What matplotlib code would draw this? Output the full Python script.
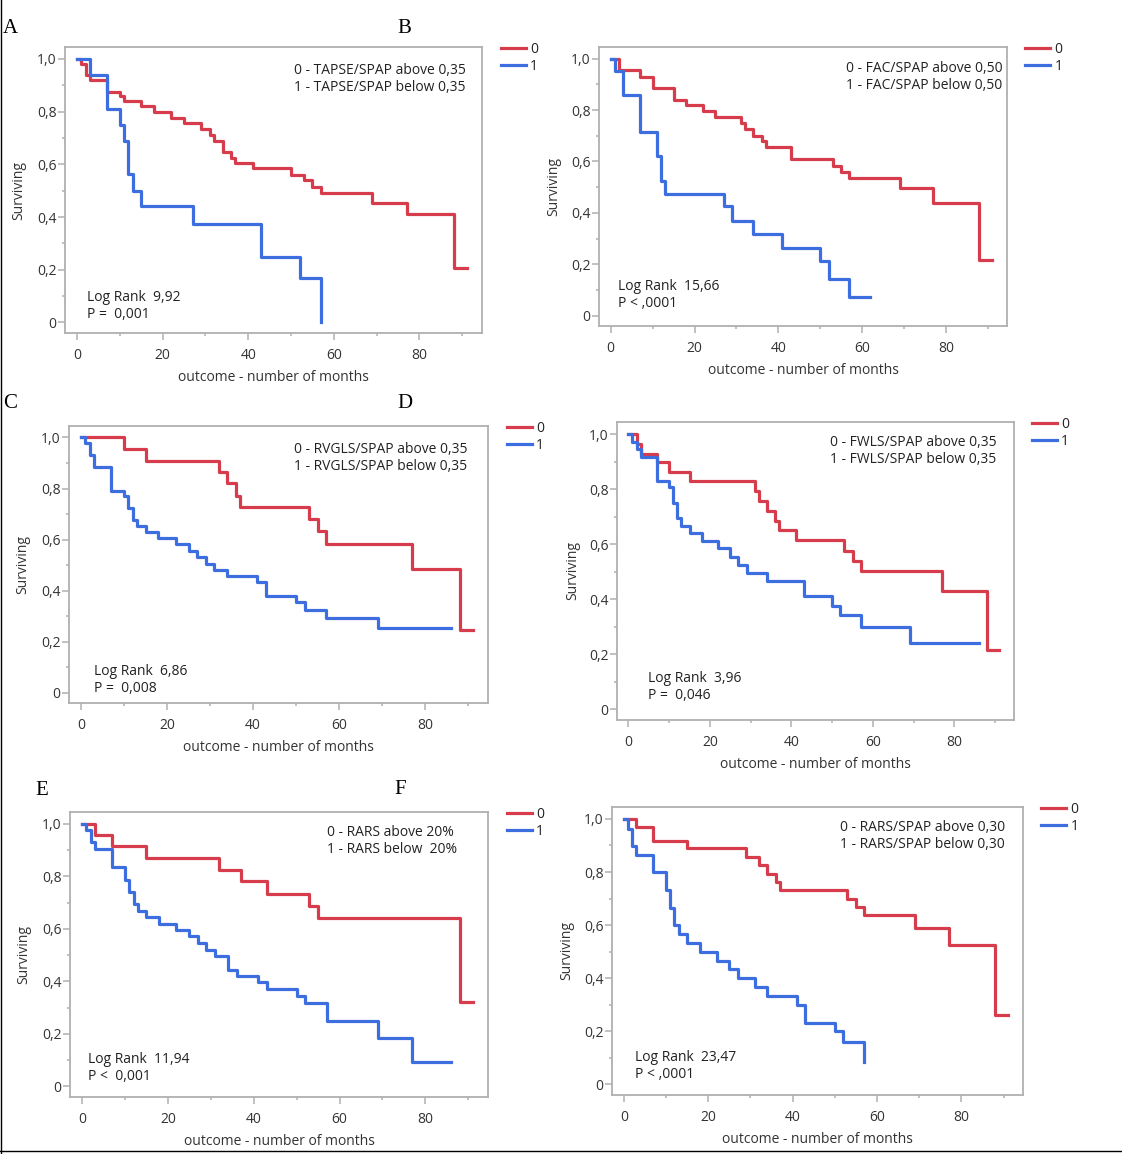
import matplotlib
matplotlib.use('Agg')
import matplotlib.pyplot as plt
from matplotlib.lines import Line2D
from matplotlib.ticker import MultipleLocator, FuncFormatter

plt.rcParams['font.family'] = ['Open Sans', 'DejaVu Sans']

RED = '#d63c4c'
BLUE = '#3d6ee0'
GRAY = '#b0b0b0'
TXT = '#333333'

# ---- data (months, surviving fraction) ----
a_red_t = [0, 1, 2, 3, 7, 10, 11, 15, 18, 22, 25, 29, 31, 32, 34, 36, 37, 41, 50, 53, 55, 57, 69, 77, 88, 91]
a_red_s = [1.0, 0.98, 0.94, 0.92, 0.875, 0.86, 0.84, 0.82, 0.80, 0.775, 0.755, 0.735, 0.71, 0.69, 0.645,
           0.625, 0.605, 0.585, 0.56, 0.54, 0.515, 0.49, 0.455, 0.41, 0.205, 0.205]
a_blue_t = [0, 3, 7, 10, 11, 12, 13, 15, 27, 43, 52, 57]
a_blue_s = [1.0, 0.94, 0.81, 0.75, 0.69, 0.565, 0.50, 0.44, 0.375, 0.25, 0.17, 0.0]

b_red_t = [0, 2, 7, 10, 15, 18, 22, 25, 31, 32, 34, 36, 37, 43, 53, 55, 57, 69, 77, 88, 91]
b_red_s = [1.0, 0.955, 0.93, 0.885, 0.84, 0.82, 0.795, 0.773, 0.75, 0.727, 0.70, 0.68, 0.656, 0.61,
           0.584, 0.56, 0.534, 0.495, 0.438, 0.218, 0.218]
b_blue_t = [0, 1, 3, 7, 11, 12, 13, 27, 29, 34, 41, 50, 52, 57, 62]
b_blue_s = [1.0, 0.95, 0.858, 0.716, 0.62, 0.525, 0.475, 0.425, 0.37, 0.318, 0.264, 0.212, 0.142, 0.071, 0.071]

c_red_t = [0, 10, 15, 32, 34, 36, 37, 53, 55, 57, 77, 88, 91]
c_red_s = [1.0, 0.955, 0.909, 0.864, 0.821, 0.772, 0.728, 0.682, 0.633, 0.582, 0.484, 0.244, 0.244]
c_blue_t = [0, 1, 2, 3, 7, 10, 11, 12, 13, 15, 18, 22, 25, 27, 29, 31, 34, 41, 43, 50, 52, 57, 69, 86]
c_blue_s = [1.0, 0.98, 0.933, 0.886, 0.79, 0.769, 0.724, 0.678, 0.652, 0.63, 0.607, 0.581, 0.555, 0.533,
            0.506, 0.481, 0.458, 0.432, 0.381, 0.354, 0.325, 0.293, 0.252, 0.252]

d_red_t = [0, 2, 3, 7, 10, 15, 31, 32, 34, 36, 37, 41, 53, 55, 57, 77, 88, 91]
d_red_s = [1.0, 0.966, 0.93, 0.899, 0.862, 0.829, 0.792, 0.756, 0.722, 0.686, 0.65, 0.614, 0.575, 0.539,
           0.502, 0.43, 0.215, 0.215]
d_blue_t = [0, 1, 2, 3, 7, 10, 11, 12, 13, 15, 18, 22, 25, 27, 29, 34, 43, 50, 52, 57, 69, 86]
d_blue_s = [1.0, 0.971, 0.947, 0.919, 0.832, 0.807, 0.75, 0.696, 0.665, 0.64, 0.611, 0.585, 0.554, 0.524,
            0.494, 0.466, 0.41, 0.376, 0.343, 0.30, 0.239, 0.239]

e_red_t = [0, 3, 7, 15, 32, 37, 43, 53, 55, 88, 91]
e_red_s = [1.0, 0.957, 0.914, 0.87, 0.825, 0.781, 0.734, 0.686, 0.642, 0.32, 0.32]
e_blue_t = [0, 1, 2, 3, 7, 10, 11, 12, 13, 15, 18, 22, 25, 27, 29, 31, 34, 36, 41, 43, 50, 52, 57, 69, 77, 86]
e_blue_s = [1.0, 0.977, 0.93, 0.905, 0.835, 0.785, 0.74, 0.694, 0.667, 0.646, 0.62, 0.595, 0.572, 0.547,
            0.521, 0.497, 0.445, 0.42, 0.396, 0.371, 0.344, 0.319, 0.249, 0.186, 0.092, 0.092]

f_red_t = [0, 3, 7, 15, 29, 32, 34, 36, 37, 53, 55, 57, 69, 77, 88, 91]
f_red_s = [1.0, 0.97, 0.916, 0.889, 0.856, 0.825, 0.793, 0.763, 0.733, 0.70, 0.669, 0.64, 0.59, 0.526,
           0.263, 0.263]
f_blue_t = [0, 1, 2, 3, 7, 10, 11, 12, 13, 15, 18, 22, 25, 27, 31, 34, 41, 43, 50, 52, 57]
f_blue_s = [1.0, 0.964, 0.897, 0.866, 0.80, 0.732, 0.666, 0.60, 0.568, 0.534, 0.50, 0.466, 0.434, 0.40,
            0.365, 0.334, 0.30, 0.232, 0.20, 0.159, 0.084]

letters = ['A', 'B', 'C', 'D', 'E', 'F']
groups = [
    '0 - TAPSE/SPAP above 0,35\n1 - TAPSE/SPAP below 0,35',
    '0 - FAC/SPAP above 0,50\n1 - FAC/SPAP below 0,50',
    '0 - RVGLS/SPAP above 0,35\n1 - RVGLS/SPAP below 0,35',
    '0 - FWLS/SPAP above 0,35\n1 - FWLS/SPAP below 0,35',
    '0 - RARS above 20%\n1 - RARS below  20%',
    '0 - RARS/SPAP above 0,30\n1 - RARS/SPAP below 0,30',
]
stats = [
    'Log Rank  9,92\nP =  0,001',
    'Log Rank  15,66\nP < ,0001',
    'Log Rank  6,86\nP =  0,008',
    'Log Rank  3,96\nP =  0,046',
    'Log Rank  11,94\nP <  0,001',
    'Log Rank  23,47\nP < ,0001',
]
curves = [
    (a_red_t, a_red_s, a_blue_t, a_blue_s),
    (b_red_t, b_red_s, b_blue_t, b_blue_s),
    (c_red_t, c_red_s, c_blue_t, c_blue_s),
    (d_red_t, d_red_s, d_blue_t, d_blue_s),
    (e_red_t, e_red_s, e_blue_t, e_blue_s),
    (f_red_t, f_red_s, f_blue_t, f_blue_s),
]

# ---- layout (pixels of the 1122x1154 picture) ----
W, H = 1122, 1154
boxes = [(65, 47, 482, 333), (599, 47, 1007, 326),
         (69, 426, 488, 703), (617, 422, 1014, 720),
         (70, 812, 488, 1097), (612, 807, 1023, 1095)]
group_pos = [(0.962, 0.944), (0.99, 0.95), (0.95, 0.942), (0.957, 0.956), (0.926, 0.954), (0.956, 0.955)]
stat_pos = [(0.053, 0.038), (0.047, 0.054), (0.059, 0.025), (0.077, 0.057), (0.043, 0.046), (0.056, 0.045)]
letter_pos = [(3, 33), (397, 33), (3, 408), (397, 408), (35, 795), (394, 794)]

fig = plt.figure(figsize=(W / 100, H / 100), dpi=100)

yfmt = FuncFormatter(lambda v, _: '0' if abs(v) < 1e-9 else f'{v:.1f}'.replace('.', ','))

for i in range(6):
    l, t, r, b = boxes[i]
    ax = fig.add_axes([l / W, 1 - b / H, (r - l) / W, (b - t) / H])
    rt, rs, bt, bs = curves[i]
    ax.step(rt, rs, where='post', color=RED, lw=2.3, label='0')
    ax.step(bt, bs, where='post', color=BLUE, lw=2.3, label='1')

    ax.set_xlim(-2.8, 94.6)
    ax.set_ylim(-0.04, 1.045)
    ax.xaxis.set_major_locator(MultipleLocator(20))
    ax.xaxis.set_minor_locator(MultipleLocator(10))
    ax.yaxis.set_major_locator(MultipleLocator(0.2))
    ax.yaxis.set_minor_locator(MultipleLocator(0.1))
    ax.yaxis.set_major_formatter(yfmt)
    for s in ax.spines.values():
        s.set_color(GRAY)
        s.set_linewidth(1.3)
    ax.tick_params(which='major', length=5, width=1.1, color=GRAY, labelsize=10, labelcolor=TXT)
    ax.tick_params(which='minor', length=2.5, width=1.1, color=GRAY)
    ax.tick_params(axis='y', which='major', pad=1)
    ax.tick_params(axis='x', which='major', pad=6)

    hpx = b - t
    wpx = r - l
    ax.set_ylabel('Surviving', fontsize=10, color=TXT)
    ax.yaxis.set_label_coords(-0.112 + 8 / wpx, 0.5)
    ax.set_xlabel('outcome - number of months', fontsize=10, color=TXT)
    ax.xaxis.set_label_coords(0.5, -37 / hpx)

    gx, gy = group_pos[i]
    ax.text(gx, gy, groups[i], transform=ax.transAxes, ha='right', va='top',
            multialignment='left', fontsize=10, color='#222222', linespacing=1.15)
    sx, sy = stat_pos[i]
    ax.text(sx, sy, stats[i], transform=ax.transAxes, ha='left', va='bottom',
            fontsize=10, color='#222222', linespacing=1.15)

    ax.legend(loc='upper left', bbox_to_anchor=(1.045, 1.018), frameon=False, fontsize=10,
              handlelength=1.8, handletextpad=0.3, labelspacing=0.15, borderpad=0,
              borderaxespad=0, labelcolor='#222222')

    lx, ly = letter_pos[i]
    fig.text(lx / W, 1 - ly / H, letters[i], fontsize=15, family='Liberation Serif',
             ha='left', va='baseline', color='black')

# thin frame lines on the left and bottom edges of the picture
fig.add_artist(Line2D([1 / W, 1 / W], [0, 1], transform=fig.transFigure, color='black', lw=1))
fig.add_artist(Line2D([0, 1], [3 / H, 3 / H], transform=fig.transFigure, color='black', lw=1))

fig.savefig('out.png', dpi=100)
